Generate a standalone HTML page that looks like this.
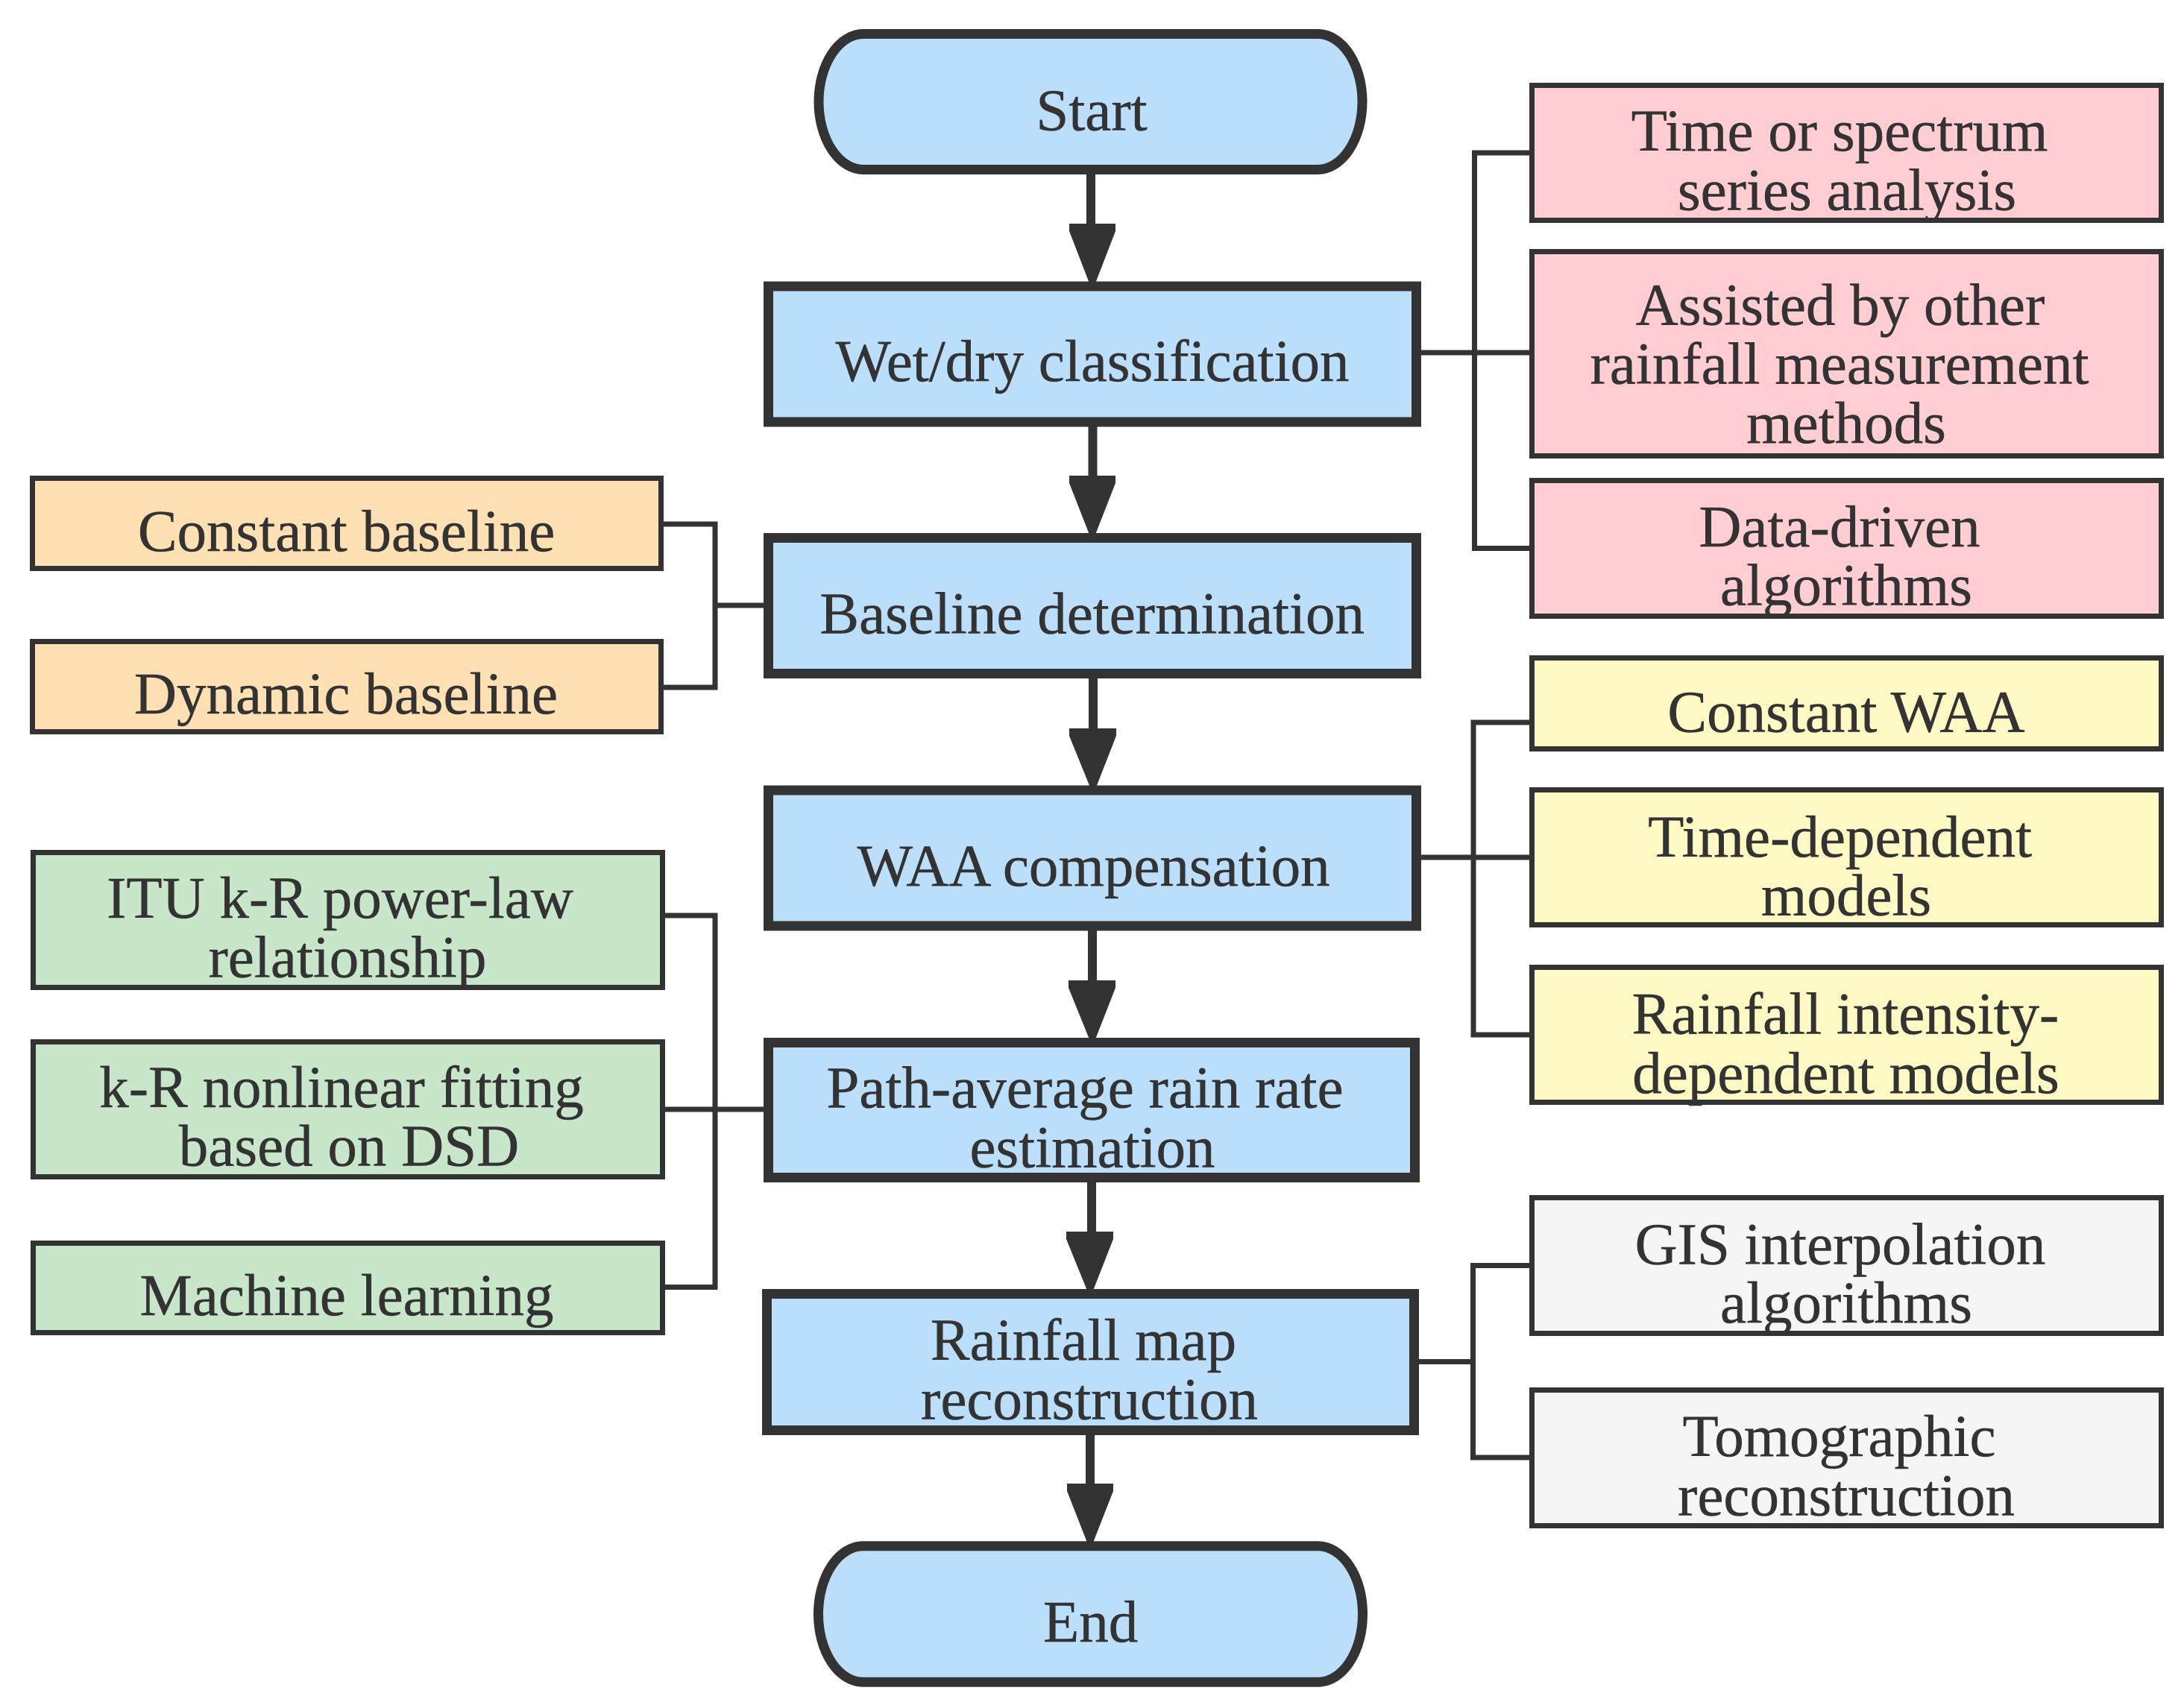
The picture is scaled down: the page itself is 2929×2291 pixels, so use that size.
<!DOCTYPE html>
<html><head><meta charset="utf-8"><style>
html,body{margin:0;padding:0;background:#fff}
svg{display:block}
text{font-family:"Liberation Serif","Times New Roman",serif;font-size:79px;fill:#333;stroke:#333;stroke-width:.5;text-anchor:middle}
.m{fill:#BBDEFB;stroke:#333;stroke-width:13}
.s{stroke:#333;stroke-width:7}
.c{fill:none;stroke:#333;stroke-width:7}
.a{fill:none;stroke:#333;stroke-width:12}
.h{fill:#333}
</style></head><body>
<svg width="2929" height="2291" viewBox="0 0 2929 2291" xmlns="http://www.w3.org/2000/svg">
<rect width="2929" height="2291" fill="#fff"/>
<path class="c" d="M2051,205H1977.5V735.5H2051M1906,473H2051"/>
<path class="c" d="M890,703H959V922H890M959,812H1024"/>
<path class="c" d="M892,1228H959V1726.5H892M892,1488H1024"/>
<path class="c" d="M2051,969H1976V1388H2051M1906,1150H2051"/>
<path class="c" d="M2051,1697.5H1975.5V1955H2051M1903,1826.5H1975.5"/>
<path class="a" d="M1463,234V302M1465.5,572V640M1466,910V979M1465,1248V1317M1464,1586V1654M1462,1925V1992"/>
<polygon class="h" points="1434,300 1496,300 1496,310 1469,380 1461,380 1434,310"/>
<polygon class="h" points="1434,638 1496,638 1496,648 1469,717 1461,717 1434,648"/>
<polygon class="h" points="1434,977 1497,977 1497,987 1470,1056 1462,1056 1434,987"/>
<polygon class="h" points="1433,1315 1496,1315 1496,1325 1469,1394 1461,1394 1433,1325"/>
<polygon class="h" points="1430,1652 1493,1652 1493,1662 1466,1731 1458,1731 1430,1662"/>
<polygon class="h" points="1431,1990 1493,1990 1493,2000 1466,2069 1458,2069 1431,2000"/>
<rect class="m" x="1098" y="45.5" width="729" height="182" rx="60" ry="91"/>
<rect class="m" x="1030.5" y="384" width="869" height="182"/>
<rect class="m" x="1030.5" y="721.5" width="869" height="182"/>
<rect class="m" x="1030.5" y="1060" width="869" height="182"/>
<rect class="m" x="1030.5" y="1398.5" width="867" height="181"/>
<rect class="m" x="1028.5" y="1735.5" width="868" height="183"/>
<rect class="m" x="1097.5" y="2073.8" width="730" height="182.4" rx="60" ry="91"/>
<g class="s" fill="#FFCDD2">
<rect x="2054.5" y="114.5" width="844" height="181"/>
<rect x="2054.5" y="337.5" width="844" height="274"/>
<rect x="2054.5" y="644.5" width="844" height="182"/>
</g>
<g class="s" fill="#FFE0B2">
<rect x="43.5" y="641.5" width="843" height="121"/>
<rect x="43.5" y="860.5" width="843" height="121"/>
</g>
<g class="s" fill="#C8E6C9">
<rect x="44.5" y="1143.5" width="844" height="181"/>
<rect x="44.5" y="1397.5" width="844" height="181"/>
<rect x="44.5" y="1667.5" width="844" height="120"/>
</g>
<g class="s" fill="#FFF9C4">
<rect x="2054.5" y="882.5" width="844" height="122"/>
<rect x="2054.5" y="1059.5" width="844" height="181"/>
<rect x="2054.5" y="1297.5" width="844" height="181"/>
</g>
<g class="s" fill="#F5F5F5">
<rect x="2054.5" y="1606.5" width="844" height="182"/>
<rect x="2054.5" y="1864.5" width="844" height="182"/>
</g>
<g transform="translate(0,1)">
<text x="1464" y="173.5">Start</text>
<text x="1465" y="510">Wet/dry classification</text>
<text x="1464.7" y="848.5">Baseline determination</text>
<text x="1466.6" y="1187">WAA compensation</text>
<text x="1455" y="1484.6">Path-average rain rate</text>
<text x="1465" y="1564.6">estimation</text>
<text x="1453" y="1823">Rainfall map</text>
<text x="1461" y="1902.6">reconstruction</text>
<text x="1462.6" y="2201">End</text>
<text x="2467" y="201">Time or spectrum</text>
<text x="2477" y="280.5">series analysis</text>
<text x="2468" y="434.6">Assisted by other</text>
<text x="2467" y="513.7">rainfall measurement</text>
<text x="2476" y="592.8">methods</text>
<text x="2467" y="732">Data-driven</text>
<text x="2476" y="810.6">algorithms</text>
<text x="464.6" y="738">Constant baseline</text>
<text x="464" y="956">Dynamic baseline</text>
<text x="456" y="1230">ITU k-R power-law</text>
<text x="466" y="1309.4">relationship</text>
<text x="458" y="1484">k-R nonlinear fitting</text>
<text x="468" y="1562.7">based on DSD</text>
<text x="465" y="1763">Machine learning</text>
<text x="2476" y="980.4">Constant WAA</text>
<text x="2467.6" y="1147.8">Time-dependent</text>
<text x="2476" y="1226.5">models</text>
<text x="2475" y="1385.7">Rainfall intensity-</text>
<text x="2475.5" y="1465">dependent models</text>
<text x="2468" y="1694.7">GIS interpolation</text>
<text x="2476" y="1773">algorithms</text>
<text x="2466.5" y="1952">Tomographic</text>
<text x="2476" y="2031.7">reconstruction</text>
</g>
</svg>
</body></html>
